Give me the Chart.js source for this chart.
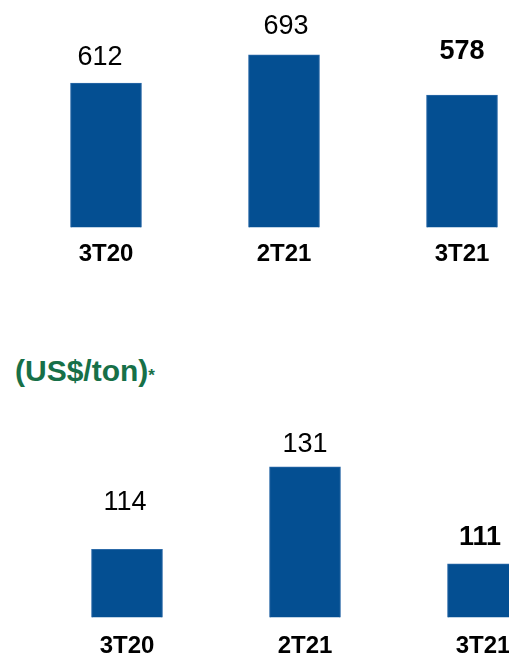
<!DOCTYPE html>
<html>
<head>
<meta charset="utf-8">
<script src="https://cdn.jsdelivr.net/npm/chart.js@4/dist/chart.umd.min.js"></script>
<style>
  html, body { margin: 0; padding: 0; background: #fff; }
  body { width: 509px; height: 654px; overflow: hidden; position: relative; font-family: "Liberation Sans", Arial, sans-serif; }
  #topChart { position: absolute; left: 0; top: 0; }
  #bottomChart { position: absolute; left: 0; top: 399px; }
  #unidade { position: absolute; left: 15px; top: 356px; color: #177048; font-weight: bold; font-size: 30px; line-height: 30px; white-space: nowrap; }
  #unidade span { font-size: 17px; }
</style>
</head>
<body>
<canvas id="topChart" width="560" height="282"></canvas>
<div id="unidade">(US$/ton)<span>*</span></div>
<canvas id="bottomChart" width="580" height="277"></canvas>
<script>
// dados
const trimestres = ['3T20', '2T21', '3T21'];
const valoresTopo = [612, 693, 578];
const valoresBaixo = [114, 131, 111];

const azul = '#044f92';
const fonte = '"Liberation Sans", Arial, sans-serif';

// rotulos em cima das barras (ultimo em negrito)
const rotulosPlugin = {
  id: 'rotulos',
  afterDatasetsDraw(chart, args, opts) {
    const ctx = chart.ctx;
    const meta = chart.getDatasetMeta(0);
    const valores = chart.data.datasets[0].data;
    ctx.save();
    ctx.fillStyle = '#000';
    ctx.textAlign = 'center';
    ctx.textBaseline = 'middle';
    meta.data.forEach((bar, i) => {
      const negrito = i === valores.length - 1;
      ctx.font = (negrito ? 'bold ' : '') + '27px ' + fonte;
      ctx.fillText(valores[i], bar.x + opts.dx[i], bar.y - opts.dy[i]);
    });
    ctx.restore();
  }
};

function criaGrafico(id, valores, min, max, padEsq, padDir, tickPad, dx, dy) {
  return new Chart(document.getElementById(id), {
    type: 'bar',
    data: {
      labels: trimestres,
      datasets: [{
        data: valores,
        backgroundColor: azul,
        borderColor: '#2c6aa8',
        borderWidth: 1,
        barThickness: 71
      }]
    },
    options: {
      responsive: false,
      animation: false,
      layout: { padding: { left: padEsq, right: padDir, top: 0, bottom: 0 } },
      plugins: {
        legend: { display: false },
        tooltip: { enabled: false },
        rotulos: { dx: dx, dy: dy }
      },
      scales: {
        x: {
          grid: { display: false, drawTicks: false },
          border: { display: false },
          ticks: {
            color: '#000',
            padding: tickPad,
            font: { family: fonte, size: 24, weight: 'bold' }
          }
        },
        y: {
          display: false,
          min: min,
          max: max
        }
      }
    },
    plugins: [rotulosPlugin]
  });
}

const graficoTopo = criaGrafico('topChart', valoresTopo, 200, 850, 17, 9, 13,
  [-6, 2, 0], [26, 28, 44]);
const graficoBaixo = criaGrafico('bottomChart', valoresBaixo, 100, 145, 38, 8, 15,
  [-2, 0, -3], [47, 22, 26]);
</script>
</body>
</html>
